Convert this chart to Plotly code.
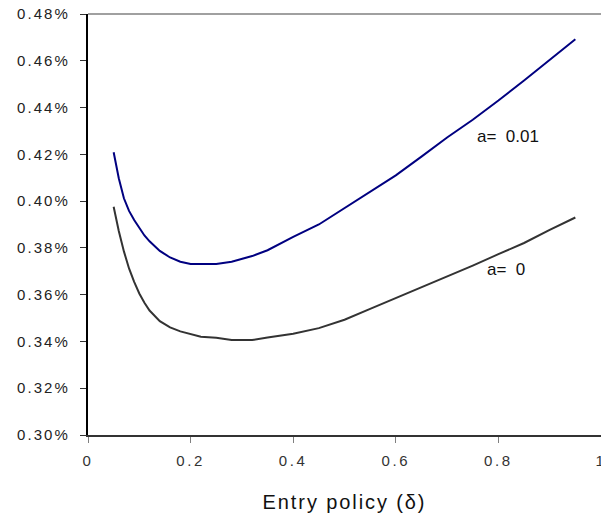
import plotly.graph_objects as go

x_vals = [0.05, 0.06, 0.07, 0.08, 0.09, 0.10, 0.11, 0.12, 0.14, 0.16, 0.18, 0.20,
          0.22, 0.25, 0.28, 0.30, 0.32, 0.35, 0.40, 0.45, 0.50, 0.55, 0.60, 0.65,
          0.70, 0.75, 0.80, 0.85, 0.90, 0.95]

a001 = [0.4209, 0.4098, 0.4012, 0.3958, 0.3919, 0.3885, 0.3853, 0.3828, 0.3787, 0.3759,
        0.3741, 0.3731, 0.3731, 0.3731, 0.3741, 0.3752, 0.3765, 0.3790, 0.3847, 0.3900,
        0.3969, 0.4040, 0.4110, 0.4190, 0.4272, 0.4348, 0.4430, 0.4516, 0.4606, 0.4692]

a0 = [0.3976, 0.3872, 0.3785, 0.3712, 0.3655, 0.3605, 0.3565, 0.3532, 0.3487, 0.3460,
      0.3443, 0.3432, 0.3420, 0.3416, 0.3406, 0.3406, 0.3406, 0.3417, 0.3433, 0.3457,
      0.3493, 0.3539, 0.3585, 0.3631, 0.3676, 0.3724, 0.3773, 0.3821, 0.3877, 0.3930]

x_ticks = [0, 0.2, 0.4, 0.6, 0.8, 1]
x_tick_labels = ["0", "0.2", "0.4", "0.6", "0.8", "1"]
y_ticks = [0.30, 0.32, 0.34, 0.36, 0.38, 0.40, 0.42, 0.44, 0.46, 0.48]
y_tick_labels = ["0.30%", "0.32%", "0.34%", "0.36%", "0.38%", "0.40%", "0.42%", "0.44%", "0.46%", "0.48%"]

label_a001 = "a=\u00a0 0.01"
label_a0 = "a=\u00a0 0"
x_title = "Entry policy (\u03b4)"

FONT = "Liberation Sans, Arial, sans-serif"

fig = go.Figure()
fig.add_trace(go.Scatter(x=x_vals, y=a001, mode="lines",
                         line=dict(color="#000080", width=2), showlegend=False))
fig.add_trace(go.Scatter(x=x_vals, y=a0, mode="lines",
                         line=dict(color="#333333", width=2), showlegend=False))

fig.add_annotation(x=0.819, y=0.4275, text=label_a001, showarrow=False,
                   font=dict(family=FONT, size=17, color="#111111"))
fig.add_annotation(x=0.814, y=0.3707, text=label_a0, showarrow=False,
                   font=dict(family=FONT, size=17, color="#111111"))

fig.add_shape(type="line", xref="paper", yref="paper", x0=0, x1=1, y0=1, y1=1,
              line=dict(color="#808080", width=1.5))

fig.update_layout(
    width=601, height=515,
    margin=dict(l=88, r=0, t=14, b=80),
    paper_bgcolor="white", plot_bgcolor="white",
    font=dict(family=FONT, size=15, color="#1a1a1a"),
    xaxis=dict(range=[0, 1], tickvals=x_ticks, ticktext=x_tick_labels,
               automargin=False, ticklabeloverflow="allow",
               showgrid=False, zeroline=False, showline=True, linecolor="#333333",
               linewidth=1.5, ticks="outside", ticklen=6, tickcolor="#808080",
               tickwidth=1, ticklabelstandoff=5,
               tickfont=dict(family=FONT, size=15, color="#333333"),
               title=dict(text=x_title, standoff=27,
                          font=dict(family=FONT, size=20, color="#111111"))),
    yaxis=dict(range=[0.30, 0.48], tickvals=y_ticks, ticktext=y_tick_labels,
               automargin=False, ticklabeloverflow="allow",
               showgrid=False, zeroline=False, showline=True, linecolor="#000000",
               linewidth=2, ticks="outside", ticklen=6, tickcolor="#333333",
               tickwidth=1, ticklabelstandoff=7,
               tickfont=dict(family=FONT, size=15, color="#222222")),
)

post = """
document.body.style.margin = '0';
document.body.style.overflow = 'hidden';
var gd = document.getElementById('{plot_id}');
function spaceText(){
  gd.querySelectorAll('.ytick text').forEach(function(t){ t.style.letterSpacing = '2.1px'; });
  gd.querySelectorAll('.xtick text').forEach(function(t){ t.style.letterSpacing = '2.6px'; });
  gd.querySelectorAll('.g-xtitle text').forEach(function(t){ t.style.letterSpacing = '1.9px'; });
}
spaceText();
gd.on('plotly_afterplot', spaceText);
"""

fig.write_html("out.html", post_script=post, config={"displayModeBar": False})
